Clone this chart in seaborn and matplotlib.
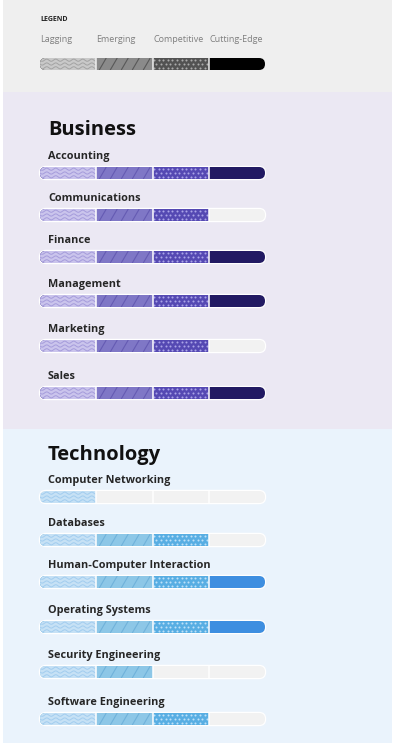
import numpy as np
import pandas as pd
import matplotlib
matplotlib.use("Agg")
import matplotlib.pyplot as plt
from matplotlib.patches import FancyBboxPatch, Rectangle
from matplotlib.collections import LineCollection
import seaborn as sns

# ---------------- data ----------------
LEVEL_NAMES = ["Lagging", "Emerging", "Competitive", "Cutting-Edge"]
LEGEND_TITLE = "LEGEND"
SECTION_TITLES = ["Business", "Technology"]
BUSINESS_SKILLS = ["Accounting", "Communications", "Finance", "Management", "Marketing", "Sales"]
BUSINESS_LEVELS = [4, 3, 4, 4, 3, 4]
TECH_SKILLS = ["Computer Networking", "Databases", "Human-Computer Interaction",
               "Operating Systems", "Security Engineering", "Software Engineering"]
TECH_LEVELS = [1, 3, 4, 4, 2, 3]

# ---------------- layout / style ----------------
W, H, DPI = 394, 745, 100
X0, SEG = 40, 56.25          # px of track start, px per level segment
BAR_H = 12
LEG_Y = 64
BUS_Y = [173, 215, 257, 301, 346, 393]
TECH_Y = [497, 540, 582, 627, 672, 719]
TITLE_Y = [135, 460]

PAL = {
    "legend": ["#c9c9c9", "#8a8a8a", "#525252", "#000000"],
    "business": ["#cac4ec", "#7f77c6", "#5549b3", "#221a63"],
    "tech": ["#c6e1f5", "#8dc7e7", "#58aee3", "#3e8ee0"],
}
TEX = {
    "legend": ["#a3a3a3", "#585858", "#aaaaaa"],
    "business": ["#a59cdb", "#655bb3", "#aaa3e8"],
    "tech": ["#a2cdef", "#70b2db", "#bde1f8"],
}
EMPTY = "#f2f2f2"
BG = {"legend": "#efefef", "business": "#ebe8f3", "tech": "#eaf3fc"}

sns.set_theme(style="white")
plt.rcParams["font.family"] = ["Open Sans", "DejaVu Sans"]


def px2x(px):
    return (px - X0) / SEG


# ---------------- long-form table ----------------
rows = [("legend", LEG_Y, 4, None)]
rows += [("business", y, lv, s) for s, lv, y in zip(BUSINESS_SKILLS, BUSINESS_LEVELS, BUS_Y)]
rows += [("tech", y, lv, s) for s, lv, y in zip(TECH_SKILLS, TECH_LEVELS, TECH_Y)]

recs = []
for sec, y, lv, s in rows:
    if sec != "legend":
        recs.append({"ypos": y, "value": 4, "key": "empty"})
    for k in range(1, lv + 1):
        recs.append({"ypos": y, "value": k, "key": f"{sec}{k}"})
df = pd.DataFrame(recs)

hue_order = ["empty"] + [f"{sec}{k}" for k in (4, 3, 2, 1) for sec in ("legend", "business", "tech")]
palette = {"empty": EMPTY}
for sec in PAL:
    for k in range(1, 5):
        palette[f"{sec}{k}"] = PAL[sec][k - 1]
hue_order = [h for h in hue_order if h in set(df["key"])]

all_y = sorted(set(df["ypos"]))
min_gap = min(np.diff(all_y))

fig = plt.figure(figsize=(W / DPI, H / DPI), dpi=DPI)
fig.patch.set_facecolor("white")
ax = fig.add_axes([0, 0, 1, 1])

sns.barplot(data=df, x="value", y="ypos", hue="key", hue_order=hue_order, palette=palette,
            orient="h", native_scale=True, dodge=False, width=BAR_H / min_gap,
            errorbar=None, legend=False, saturation=1, linewidth=0, ax=ax)
bar_patches = list(ax.patches)

ax.set_xlim(px2x(0), px2x(W))
ax.set_ylim(H, 0)
ax.axis("off")


def pill(yc, h, grow=0.0, **kw):
    return FancyBboxPatch((-grow / SEG, yc - h / 2), 4 + 2 * grow / SEG, h,
                          boxstyle=f"round,pad=0,rounding_size={h / 2 / SEG}",
                          mutation_aspect=SEG, transform=ax.transData, **kw)


row_sec = {y: sec for sec, y, lv, s in rows}
clips = {y: pill(y, BAR_H) for y in row_sec}

for p in bar_patches:
    yc = p.get_y() + p.get_height() / 2
    ykey = min(clips, key=lambda v: abs(v - yc))
    p.set_clip_path(clips[ykey])
    p.set_zorder(2)

# background panels
ax.add_patch(Rectangle((px2x(3), 0), 389 / SEG, 92, fc=BG["legend"], ec="none", zorder=0))
ax.add_patch(Rectangle((px2x(3), 92), 389 / SEG, 337, fc=BG["business"], ec="none", zorder=0))
ax.add_patch(Rectangle((px2x(3), 429), 389 / SEG, 314, fc=BG["tech"], ec="none", zorder=0))

for sec, y, lv, s in rows:
    clip = clips[y]
    if sec != "legend":
        ax.add_patch(pill(y, BAR_H + 2.4, grow=1.2, fc="white", ec="none", zorder=1))
    sep_col = "white" if sec != "legend" else BG["legend"]
    ax.vlines([1, 2, 3], y - BAR_H / 2 - 1, y + BAR_H / 2 + 1, colors=sep_col, lw=1.1, zorder=4)
    # Lagging: waves
    xs = np.arange(0, SEG - 0.5, 0.25)
    for off in (-3.8, 0.0, 3.8):
        ln, = ax.plot(xs / SEG, y + off + 1.1 * np.sin(2 * np.pi * xs / 9.0),
                      color=TEX[sec][0], lw=0.7, zorder=3)
        ln.set_clip_path(clip)
    # Emerging: diagonal lines
    if lv >= 2:
        rc = Rectangle((1, y - BAR_H / 2), 1, BAR_H, transform=ax.transData)
        segs = [[(1 + s0 / SEG, y + BAR_H / 2), (1 + (s0 + 7) / SEG, y - BAR_H / 2)]
                for s0 in np.arange(-8, SEG + 2, 11)]
        lc = LineCollection(segs, colors=TEX[sec][1], linewidths=0.8, zorder=3)
        ax.add_collection(lc)
        lc.set_clip_path(rc)
    # Competitive: dots
    if lv >= 3:
        rc = Rectangle((2, y - BAR_H / 2), 1, BAR_H, transform=ax.transData)
        dx, dy = [], []
        for j, off in enumerate((-3.6, 0.0, 3.6)):
            start = 1.5 if j % 2 == 0 else 3.8
            for xp in np.arange(start, SEG, 4.6):
                dx.append(2 + xp / SEG)
                dy.append(y + off)
        sc = ax.scatter(dx, dy, s=2.2, c=TEX[sec][2], linewidths=0, zorder=3)
        sc.set_clip_path(rc)
    if s is not None:
        ax.text(px2x(48), y - 14, s, fontsize=7.8, fontweight="bold", color="#262626",
                ha="left", va="baseline", zorder=5)

# titles and legend texts
ax.text(px2x(40), 21, LEGEND_TITLE, fontsize=5, fontweight="bold", color="#222222",
        ha="left", va="baseline")
for k, name in enumerate(LEVEL_NAMES):
    ax.text(k + px2x(40 + 0.3 * k), 42.5, name, fontsize=6.5, color="#7f7f7f",
            ha="left", va="baseline")
for t, ty in zip(SECTION_TITLES, TITLE_Y):
    ax.text(px2x(48), ty, t, fontsize=14.5, fontweight="bold", color="#111111",
            ha="left", va="baseline")

fig.savefig("out.png", dpi=DPI, facecolor="white")
